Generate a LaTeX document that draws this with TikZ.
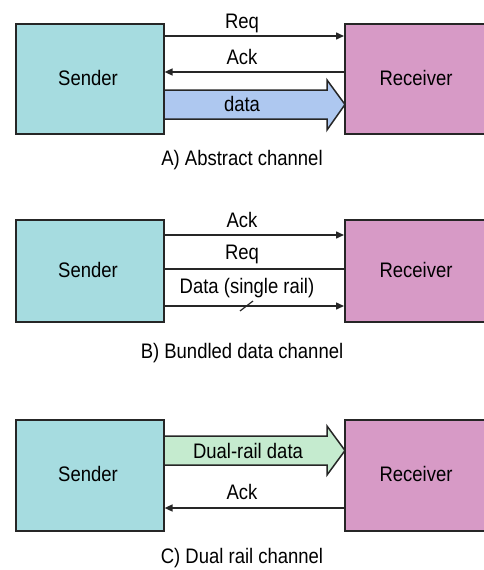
\documentclass[tikz,border=0pt]{standalone}
\usepackage{fontspec}
\setmainfont{Liberation Sans}[FakeStretch=0.88]
\usetikzlibrary{arrows.meta}
\definecolor{sendcol}{HTML}{A6DCE0}
\definecolor{recvcol}{HTML}{D79AC6}
\definecolor{datacol}{HTML}{AEC8F0}
\definecolor{dualcol}{HTML}{C5EBCF}
\tikzset{
  unit/.style={draw=black!85, line width=1.6pt, minimum height=#1, inner sep=0pt,
    anchor=north west},
  sendbox/.style={unit=#1, fill=sendcol, minimum width=148pt},
  recvbox/.style={unit=#1, fill=recvcol, minimum width=150pt},
  wire/.style={draw=black!85, line width=1.5pt},
  wirearrow/.style={wire, -{Triangle[length=8pt,width=7pt]}},
  lbl/.style={font=\fontsize{21}{24}\selectfont, inner sep=0pt},
  fat/.style={draw=black!85, line width=1.5pt, line join=miter},
}
\begin{document}
\begin{tikzpicture}[x=1pt,y=-1pt]
\useasboundingbox (0,0) rectangle (484,570);
\clip (0,0) rectangle (484,570);

% ---------- A) abstract channel ----------
\fill[datacol] (163,90) -- (327,90) -- (327,80) -- (345,104.5) -- (327,130) -- (327,119) -- (163,119) -- cycle;
\draw[fat] (163,90) -- (327,90) -- (327,80) -- (345,104.5) -- (327,130) -- (327,119) -- (163,119);
\node[sendbox=110pt] (sa) at (15,23) {};
\node[lbl] at (88,78) {Sender};
\node[recvbox=110pt] (ra) at (344,23) {};
\node[lbl] at (416,78) {Receiver};
\draw[wirearrow] (sa.east |- 0,36) -- (ra.west |- 0,36);
\draw[wirearrow] (ra.west |- 0,72) -- (sa.east |- 0,72);
\node[lbl] (reqa) at (242,23) {Req};
\node[lbl] (acka) at (242,57) {Ack};
\node[lbl] (dataa) at (242,104) {data};
\node[lbl] (capa) at (242,160) {A) Abstract channel};

% ---------- B) bundled data channel ----------
\node[sendbox=102pt] (sb) at (15,219) {};
\node[lbl] at (88,270) {Sender};
\node[recvbox=102pt] (rb) at (344,219) {};
\node[lbl] at (416,270) {Receiver};
\draw[wirearrow] (sb.east |- 0,235) -- (rb.west |- 0,235);
\draw[wire] (sb.east |- 0,269) -- (rb.west |- 0,269);
\draw[wirearrow] (sb.east |- 0,306) -- (rb.west |- 0,306);
\draw[wire, line width=1.2pt] (240,311) -- (253,301);
\node[lbl] (ackb) at (242,220) {Ack};
\node[lbl] (reqb) at (242,254) {Req};
\node[lbl] (datab) at (247,288) {Data (single rail)};
\node[lbl] (capb) at (242,353) {B) Bundled data channel};

% ---------- C) dual rail channel ----------
\fill[dualcol] (163,436) -- (327,436) -- (327,426) -- (345,450.5) -- (327,475) -- (327,465) -- (163,465) -- cycle;
\draw[fat] (163,436) -- (327,436) -- (327,426) -- (345,450.5) -- (327,475) -- (327,465) -- (163,465);
\node[sendbox=111pt] (sc) at (15,419) {};
\node[lbl] at (88,474) {Sender};
\node[recvbox=111pt] (rc) at (344,419) {};
\node[lbl] at (416,474) {Receiver};
\draw[wirearrow] (rc.west |- 0,508) -- (sc.east |- 0,508);
\node[lbl] (dualc) at (248,451) {Dual-rail data};
\node[lbl] (ackc) at (242,492) {Ack};
\node[lbl] (capc) at (242,558) {C) Dual rail channel};
\end{tikzpicture}
\end{document}
